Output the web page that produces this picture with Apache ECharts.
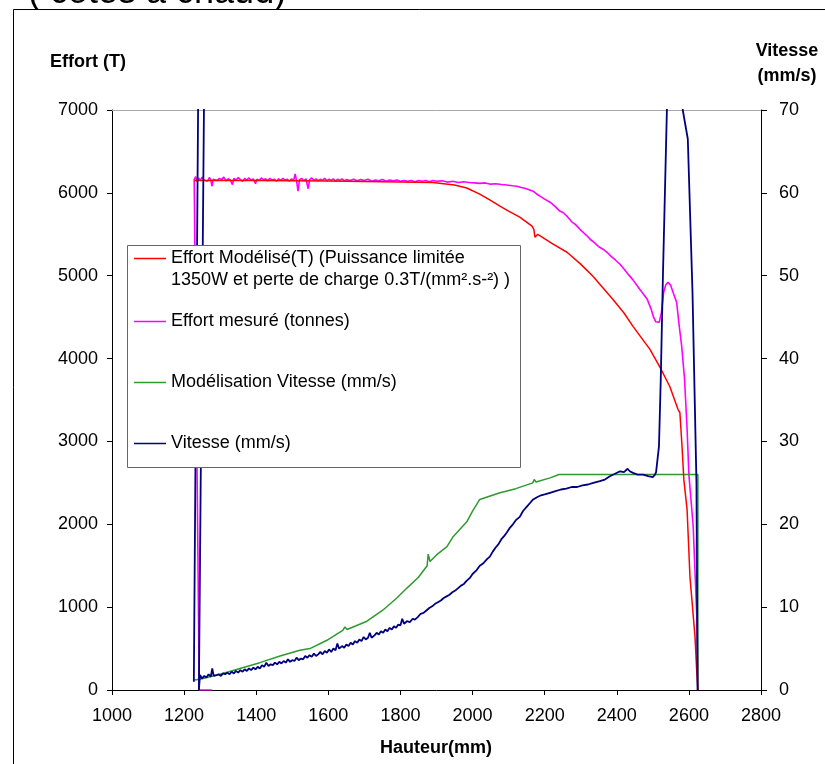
<!DOCTYPE html>
<html>
<head>
<meta charset="utf-8">
<script src="https://cdn.jsdelivr.net/npm/echarts/dist/echarts.min.js"></script>
<style>
html,body{margin:0;padding:0;background:#fff;}
#chart{width:825px;height:764px;}
</style>
</head>
<body>
<div id="chart"></div>
<script>
// ---- tick labels / axes ----
const hauteurTicks = [1000, 1200, 1400, 1600, 1800, 2000, 2200, 2400, 2600, 2800];
const effortTicks = [0, 1000, 2000, 3000, 4000, 5000, 6000, 7000];
const vitesseTicks = [0, 10, 20, 30, 40, 50, 60, 70];

// ---- series names ----
const seriesNames = [
  'Effort Modélisé(T) (Puissance limitée\n1350W et perte de charge 0.3T/(mm².s-²) )',
  'Effort mesuré (tonnes)',
  'Modélisation Vitesse (mm/s)',
  'Vitesse (mm/s)'
];

// ---- Effort Modélisé (T) : [hauteur, effort] ----
const effortModelise = [
  [1228,6150],[1300,6150],[1400,6148],[1500,6145],[1600,6142],[1700,6138],[1799,6132],
  [1890,6125],[1950,6095],[1984,6058],[2020,5985],[2050,5910],[2076,5840],[2100,5780],
  [2131,5707],[2165,5598],[2170,5560],[2173,5465],[2177,5480],[2181,5500],[2220,5390],
  [2262,5283],[2300,5140],[2334,4993],[2353,4897],[2389,4715],[2420,4550],[2445,4389],
  [2492,4111],[2520,3893],[2547,3663],[2570,3385],[2575,3349],[2581,2938],[2586,2539],
  [2595,2176],[2603,1366],[2617,641],[2622,205],[2625,0]
];

// ---- Effort mesuré (tonnes) : [hauteur, effort] ----
const effortMesure = [
  [1277,0],[1242,0],[1228,6160],[1232,6195],[1236,6135],[1240,6180],[1245,6150],[1250,6190],
  [1255,6155],[1260,6175],[1265,6140],[1270,6185],[1274,6160],[1277,6080],[1281,6165],[1286,6185],
  [1292,6150],[1298,6175],[1304,6160],[1310,6190],[1316,6145],[1322,6170],[1328,6155],[1334,6100],
  [1338,6175],[1344,6150],[1350,6185],[1356,6160],[1362,6140],[1368,6175],[1374,6155],[1380,6180],
  [1386,6150],[1392,6170],[1398,6110],[1402,6165],[1408,6150],[1414,6180],[1420,6155],[1426,6170],
  [1432,6145],[1438,6175],[1444,6155],[1450,6165],[1456,6140],[1462,6170],[1468,6150],[1474,6175],
  [1480,6155],[1486,6165],[1492,6140],[1498,6170],[1504,6150],[1508,6230],[1512,6140],[1516,6020],
  [1520,6160],[1526,6175],[1532,6145],[1538,6170],[1544,6050],[1548,6160],[1554,6180],[1560,6150],
  [1566,6170],[1572,6145],[1578,6165],[1584,6150],[1590,6175],[1596,6145],[1602,6165],[1608,6150],
  [1614,6170],[1620,6140],[1626,6165],[1632,6150],[1638,6170],[1644,6145],[1650,6160],[1660,6150],
  [1670,6165],[1680,6145],[1690,6160],[1700,6150],[1710,6165],[1720,6140],[1730,6155],[1740,6145],
  [1750,6160],[1760,6140],[1770,6155],[1780,6145],[1790,6155],[1800,6140],[1810,6150],[1820,6140],
  [1830,6150],[1840,6135],[1850,6150],[1860,6140],[1870,6150],[1880,6135],[1890,6150],[1900,6140],
  [1915,6145],[1930,6130],[1945,6140],[1960,6125],[1975,6135],[1990,6125],[2005,6120],[2020,6115],
  [2035,6120],[2050,6105],[2065,6110],[2080,6100],[2095,6095],[2110,6085],[2123,6080],[2135,6065],
  [2145,6055],[2155,6040],[2168,6020],[2180,5980],[2187,5960],[2200,5925],[2215,5887],[2228,5840],
  [2242,5780],[2252,5760],[2262,5718],[2275,5650],[2285,5620],[2298,5560],[2310,5510],[2320,5470],
  [2326,5440],[2338,5400],[2350,5350],[2362,5320],[2373,5283],[2385,5230],[2396,5190],[2409,5138],
  [2420,5080],[2433,5010],[2445,4950],[2458,4870],[2470,4800],[2484,4720],[2495,4600],[2502,4500],
  [2508,4445],[2518,4440],[2524,4560],[2530,4800],[2536,4890],[2542,4920],[2549,4890],[2556,4800],
  [2566,4680],[2573,4400],[2580,4150],[2588,3750],[2595,3150],[2600,2600],[2612,1970],[2622,880],
  [2625,0]
];

// ---- Modélisation Vitesse (mm/s) : [hauteur, vitesse] ----
const vitesseModelisee = [
  [1228,1.2],[1244,1.3],[1300,1.9],[1355,2.6],[1410,3.3],[1466,4.1],[1521,4.8],[1549,5.0],
  [1596,6.0],[1640,7.2],[1646,7.6],[1652,7.3],[1707,8.3],[1750,9.6],[1790,11.1],[1818,12.3],
  [1850,13.6],[1874,15.0],[1877,16.4],[1882,15.5],[1900,16.3],[1929,17.3],[1946,18.5],[1984,20.3],
  [2000,21.6],[2020,23.0],[2076,23.8],[2120,24.3],[2167,25.0],[2171,25.4],[2176,25.1],[2215,25.6],
  [2240,26.0],[2625,26.0],[2625,0]
];

// ---- Vitesse (mm/s) mesurée : [hauteur, vitesse] ----
const vitesseMesuree = [
  [1227,1.0],[1243,95],[1260,95],[1241,0],[1244,1.8],[1250,1.4],[1256,1.7],[1262,1.5],[1268,1.9],
  [1274,1.6],[1278,2.6],[1282,1.7],[1290,1.8],[1296,1.9],[1302,1.7],[1308,2.0],[1314,1.9],[1320,2.1],
  [1326,1.9],[1332,2.2],[1338,2.0],[1344,2.3],[1350,2.1],[1356,2.4],[1362,2.2],[1368,2.5],[1374,2.3],
  [1380,2.6],[1386,2.4],[1392,2.7],[1398,2.5],[1404,2.8],[1410,2.6],[1416,3.0],[1422,2.8],[1428,3.3],
  [1434,2.9],[1440,3.1],[1446,3.0],[1452,3.3],[1458,3.1],[1464,3.4],[1470,3.2],[1476,3.5],[1482,3.3],
  [1488,3.7],[1494,3.4],[1500,3.6],[1506,3.5],[1512,3.9],[1518,3.6],[1524,3.8],[1530,3.7],[1536,4.1],
  [1542,3.9],[1548,4.2],[1554,4.0],[1560,4.4],[1566,4.1],[1572,4.3],[1578,4.6],[1584,4.3],[1590,4.7],
  [1596,4.5],[1602,4.9],[1608,4.6],[1614,5.0],[1620,4.8],[1625,5.6],[1630,5.0],[1638,5.3],[1644,5.1],
  [1650,5.5],[1656,5.3],[1662,5.7],[1668,5.5],[1674,5.9],[1680,5.7],[1686,6.1],[1692,5.9],[1698,6.4],
  [1704,6.1],[1710,6.3],[1715,6.9],[1720,6.3],[1728,6.6],[1734,6.9],[1740,6.7],[1746,7.1],[1752,6.9],
  [1758,7.3],[1764,7.1],[1770,7.5],[1776,7.3],[1782,7.7],[1788,7.5],[1794,7.9],[1800,7.8],[1805,8.6],
  [1810,8.0],[1818,8.3],[1826,8.2],[1834,8.6],[1840,8.5],[1848,8.8],[1856,9.2],[1864,9.3],[1872,9.6],
  [1880,9.9],[1888,10.1],[1896,10.4],[1904,10.6],[1912,10.8],[1920,11.1],[1928,11.3],[1936,11.5],
  [1944,11.8],[1952,12.0],[1960,12.3],[1968,12.6],[1976,12.8],[1984,13.2],[1992,13.5],[2000,14.0],
  [2010,14.4],[2020,15.0],[2030,15.3],[2040,15.8],[2048,16.1],[2056,16.7],[2064,17.2],[2072,17.6],
  [2080,18.2],[2088,18.6],[2095,19.0],[2104,19.6],[2112,20.0],[2120,20.5],[2131,20.9],[2140,21.6],
  [2150,22.1],[2160,22.6],[2168,23.0],[2180,23.3],[2190,23.5],[2200,23.6],[2215,23.8],[2230,24.0],
  [2245,24.2],[2260,24.3],[2275,24.5],[2290,24.5],[2305,24.7],[2320,24.8],[2335,25.0],[2353,25.2],
  [2367,25.4],[2381,25.8],[2395,26.1],[2409,26.4],[2420,26.3],[2430,26.7],[2436,26.4],[2445,26.2],
  [2458,26.0],[2473,26.0],[2487,25.8],[2500,25.7],[2506,26.0],[2509,26.3],[2517,29.4],[2522,37.5],
  [2528,50],[2539,70],[2548,88],[2576,88],[2583,70],[2597,66.5],[2610,48],[2621,25],[2624,0]
];

const colors = ['#ff0000', '#ff00ff', '#2e9a2e', '#000080'];
const FONT = '"Liberation Sans", Arial, sans-serif';

const chart = echarts.init(document.getElementById('chart'), null, {renderer: 'canvas'});

const legendY = [258, 321, 382, 443];
const legendGraphics = [];
legendGraphics.push({
  type: 'rect', z: 10,
  shape: {x: 127.5, y: 245.5, width: 393, height: 222},
  style: {fill: '#fff', stroke: '#666', lineWidth: 1}
});
seriesNames.forEach((name, i) => {
  legendGraphics.push({
    type: 'line', z: 11,
    shape: {x1: 134, y1: legendY[i] + 0.5, x2: 166, y2: legendY[i] + 0.5},
    style: {stroke: colors[i], lineWidth: 1.5}
  });
  const lines = name.split('\n');
  lines.forEach((t, k) => {
    legendGraphics.push({
      type: 'text', z: 11,
      x: 171, y: legendY[i] + k * 22,
      style: {text: t, font: '18px ' + FONT, fill: '#000', verticalAlign: 'middle', align: 'left'}
    });
  });
});

const plainNum = v => String(v);

const option = {
  animation: false,
  backgroundColor: '#fff',
  grid: {left: 112, right: 64, top: 110, bottom: 74, containLabel: false},
  xAxis: [{
    type: 'value',
    min: hauteurTicks[0], max: hauteurTicks[hauteurTicks.length - 1],
    interval: hauteurTicks[1] - hauteurTicks[0],
    axisLine: {show: true, onZero: false, lineStyle: {color: '#000', width: 1}},
    axisTick: {show: true, inside: false, length: 5, lineStyle: {color: '#000'}},
    axisLabel: {color: '#000', fontSize: 18, fontFamily: FONT, margin: 17, formatter: plainNum},
    splitLine: {show: false}
  }, {
    type: 'value', position: 'top',
    min: hauteurTicks[0], max: hauteurTicks[hauteurTicks.length - 1],
    axisLine: {show: true, onZero: false, lineStyle: {color: '#a8a8a8', width: 1}},
    axisTick: {show: false}, axisLabel: {show: false}, splitLine: {show: false}
  }],
  yAxis: [{
    type: 'value', position: 'left',
    min: effortTicks[0], max: effortTicks[effortTicks.length - 1],
    interval: effortTicks[1] - effortTicks[0],
    axisLine: {show: true, onZero: false, lineStyle: {color: '#000', width: 1}},
    axisTick: {show: true, inside: false, length: 5, lineStyle: {color: '#000'}},
    axisLabel: {color: '#000', fontSize: 18, fontFamily: FONT, margin: 14, formatter: plainNum},
    splitLine: {show: false}
  }, {
    type: 'value', position: 'right',
    min: vitesseTicks[0], max: vitesseTicks[vitesseTicks.length - 1],
    interval: vitesseTicks[1] - vitesseTicks[0],
    axisLine: {show: true, onZero: false, lineStyle: {color: '#000', width: 1}},
    axisTick: {show: true, inside: false, length: 6, lineStyle: {color: '#000'}},
    axisLabel: {color: '#000', fontSize: 18, fontFamily: FONT, margin: 18, formatter: plainNum},
    splitLine: {show: false}
  }],
  series: [
    {name: seriesNames[0], type: 'line', xAxisIndex: 0, yAxisIndex: 0, data: effortModelise,
     showSymbol: false, symbol: 'none', clip: true, z: 3, lineStyle: {color: colors[0], width: 1.5}},
    {name: seriesNames[1], type: 'line', xAxisIndex: 0, yAxisIndex: 0, data: effortMesure,
     showSymbol: false, symbol: 'none', clip: true, z: 2, lineStyle: {color: colors[1], width: 1.6}},
    {name: seriesNames[2], type: 'line', xAxisIndex: 0, yAxisIndex: 1, data: vitesseModelisee,
     showSymbol: false, symbol: 'none', clip: true, z: 2, lineStyle: {color: colors[2], width: 1.5}},
    {name: seriesNames[3], type: 'line', xAxisIndex: 0, yAxisIndex: 1, data: vitesseMesuree,
     showSymbol: false, symbol: 'none', clip: true, z: 4, lineStyle: {color: colors[3], width: 1.8}}
  ],
  graphic: {
    elements: [
      {type: 'text', z: -20, x: -24, y: -7,
       style: {text: 'e - ( cotes à chaud)', font: '36px ' + FONT, fill: '#000', verticalAlign: 'middle', align: 'left'}},
      {type: 'rect', z: -10,
       shape: {x: 13.5, y: 9.5, width: 1000, height: 1000},
       style: {fill: '#fff', stroke: '#000', lineWidth: 1}},
      {type: 'text', z: 5, x: 50, y: 62,
       style: {text: 'Effort (T)', font: 'bold 18px ' + FONT, fill: '#000', verticalAlign: 'middle', align: 'left'}},
      {type: 'text', z: 5, x: 787, y: 51,
       style: {text: 'Vitesse', font: 'bold 18px ' + FONT, fill: '#000', verticalAlign: 'middle', align: 'center'}},
      {type: 'text', z: 5, x: 787, y: 76,
       style: {text: '(mm/s)', font: 'bold 18px ' + FONT, fill: '#000', verticalAlign: 'middle', align: 'center'}},
      {type: 'text', z: 5, x: 436, y: 748,
       style: {text: 'Hauteur(mm)', font: 'bold 18px ' + FONT, fill: '#000', verticalAlign: 'middle', align: 'center'}}
    ].concat(legendGraphics)
  }
};
chart.setOption(option);
</script>
</body>
</html>
